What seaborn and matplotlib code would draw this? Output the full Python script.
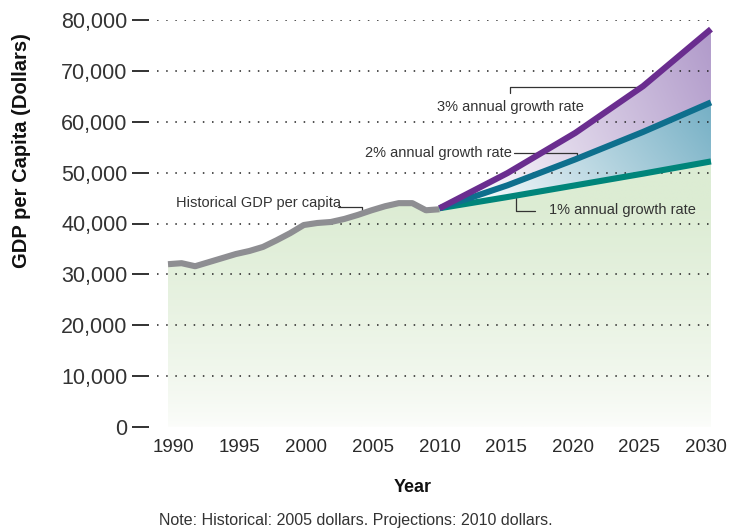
import numpy as np
import matplotlib
matplotlib.use("Agg")
import matplotlib.pyplot as plt
from matplotlib.patches import PathPatch
from matplotlib.colors import to_rgb
from matplotlib.transforms import ScaledTranslation
import seaborn as sns

# historical GDP per capita (2005 dollars)
hist_years = list(range(1990, 2011))
hist_gdp = [32000, 32200, 31600, 32400, 33200, 34000, 34600, 35400, 36700, 38100,
            39700, 40100, 40300, 40900, 41700, 42600, 43400, 44000, 44000, 42600, 42800]

# projections (2010 dollars)
proj_years = [2010, 2015, 2020, 2025, 2030]
rate1 = [43000, 45200, 47500, 49800, 52200]
rate2 = [43000, 47500, 52600, 58000, 63800]
rate3 = [43000, 49900, 57800, 67000, 78200]

y_ticks = [0, 10000, 20000, 30000, 40000, 50000, 60000, 70000, 80000]
x_ticks = [1990, 1995, 2000, 2005, 2010, 2015, 2020, 2025, 2030]

FONT = ["Liberation Sans", "DejaVu Sans"]

sns.set_theme(style="white")
plt.rcParams["font.family"] = FONT

fig = plt.figure(figsize=(7.3, 5.29), dpi=100)
ax = fig.add_axes([149 / 730, 1 - 427 / 529, (716 - 149) / 730, (427 - 20) / 529])
XMIN, XMAX = 1988.6, 2030.37
YMAX = 80000


def gradient_fill(x, lower, upper, img, extent, z):
    poly = ax.fill_between(x, lower, upper, color="none", lw=0)
    patch = PathPatch(poly.get_paths()[0], transform=ax.transData,
                      facecolor="none", edgecolor="none")
    ax.add_patch(patch)
    im = ax.imshow(img, extent=extent, origin="lower", aspect="auto",
                   zorder=z, interpolation="bilinear")
    im.set_clip_path(patch)


def mix(c_from, c_to, t):
    a = np.array(to_rgb(c_from))
    b = np.array(to_rgb(c_to))
    return a[None, None, :] * (1 - t[..., None]) + b[None, None, :] * t[..., None]


# green area under the history and the 1% line (vertical fade)
gx = hist_years + proj_years[1:]
gtop = hist_gdp + rate1[1:]
ty = np.linspace(0, 1, 200)[:, None] * np.ones((1, 10))
green = mix("#fcfdfb", "#dcecd3", np.clip(ty / 0.85, 0, 1) ** 0.75)
gradient_fill(gx, [0] * len(gx), gtop, green, [1990, 2030, 0, 52200], 1)

# blue and purple bands (fade from the 2010 start)
xx = np.linspace(0, 1, 200)[None, :] * np.ones((100, 1))
yy = np.linspace(0, 1, 100)[:, None] * np.ones((1, 200))
tb = np.clip(0.85 * xx + 0.25 * yy - 0.08, 0, 1)
blue = mix("#ffffff", "#78b1c6", tb)
gradient_fill(proj_years, rate1, rate2, blue, [2010, 2030, 43000, 64000], 1)
purple = mix("#ffffff", "#b29ccb", tb)
gradient_fill(proj_years, rate2, rate3, purple, [2010, 2030, 43000, 78500], 1)

# dotted grid
for v in y_ticks[1:]:
    ax.hlines(v, 1989.2, 2030, colors="#222222", linestyles=(0, (1, 5)),
              linewidth=1.1, zorder=2)

lw = 4.4
sns.lineplot(x=hist_years, y=hist_gdp, ax=ax, color="#8e8e92", linewidth=lw, zorder=5)
sns.lineplot(x=proj_years, y=rate1, ax=ax, color="#00857a", linewidth=lw, zorder=6)
sns.lineplot(x=proj_years, y=rate2, ax=ax, color="#0e6f8d", linewidth=lw, zorder=7)
sns.lineplot(x=proj_years, y=rate3, ax=ax, color="#6a2d8f", linewidth=lw, zorder=8)
for ln in ax.get_lines():
    ln.set_clip_on(False)
    ln.set_solid_capstyle("butt")
    ln.set_solid_joinstyle("round")

# annotations with leader lines
lc = "#333333"
ann = dict(fontsize=10.5, color="#333333", va="center")
ax.text(1990.6, 44000, "Historical GDP per capita", ha="left", **ann)
ax.plot([2002.5, 2004.3, 2004.3], [43300, 43300, 42000], color=lc, lw=0.9, zorder=4)

ax.text(2015.2, 62900, "3% annual growth rate", ha="center", **ann)
ax.plot([2015.2, 2015.2, 2024.8], [65600, 66800, 66800], color=lc, lw=0.9, zorder=4)

ax.text(2009.95, 53800, "2% annual growth rate", ha="center", **ann)
ax.plot([2015.5, 2020.1, 2020.1], [53800, 53800, 52450], color=lc, lw=0.9, zorder=4)

ax.text(2023.5, 42600, "1% annual growth rate", ha="center", **ann)
ax.plot([2015.6, 2015.6, 2017.0], [45000, 42400, 42400], color=lc, lw=0.9, zorder=4)

ax.set_xlim(XMIN, XMAX)
ax.set_ylim(0, YMAX)
ax.set_yticks(y_ticks)
ax.set_yticklabels([f"{v:,}" for v in y_ticks])
ax.set_xticks(x_ticks)
ax.set_xticklabels([str(v) for v in x_ticks])
ax.tick_params(axis="y", left=True, length=12, width=1.3, color="#222222",
               pad=3.5, labelsize=15.5, labelcolor="#333333")
ax.tick_params(axis="x", bottom=False, length=0, pad=9, labelsize=13.5,
               labelcolor="#2a2a2a")
# the year labels sit a little inward of the data positions
for i, lab in enumerate(ax.get_xticklabels()):
    dx = (5 - 10 * i / (len(x_ticks) - 1)) / 100
    lab.set_transform(lab.get_transform() + ScaledTranslation(dx, 0, fig.dpi_scale_trans))
for s in ax.spines.values():
    s.set_visible(False)
ax.grid(False)
ax.set_facecolor("white")

fig.text(21.5 / 730, 1 - 151 / 529, "GDP per Capita (Dollars)", rotation=90,
         ha="center", va="center", fontsize=14.5, fontweight="bold", color="#111111")
fig.text(413 / 730, 1 - 487 / 529, "Year", ha="center", va="center",
         fontsize=13, fontweight="bold", color="#111111")
fig.text(356 / 730, 1 - 520 / 529,
         "Note: Historical: 2005 dollars. Projections: 2010 dollars.",
         ha="center", va="center", fontsize=11.5, color="#333333")

fig.savefig("out.png", dpi=100)
